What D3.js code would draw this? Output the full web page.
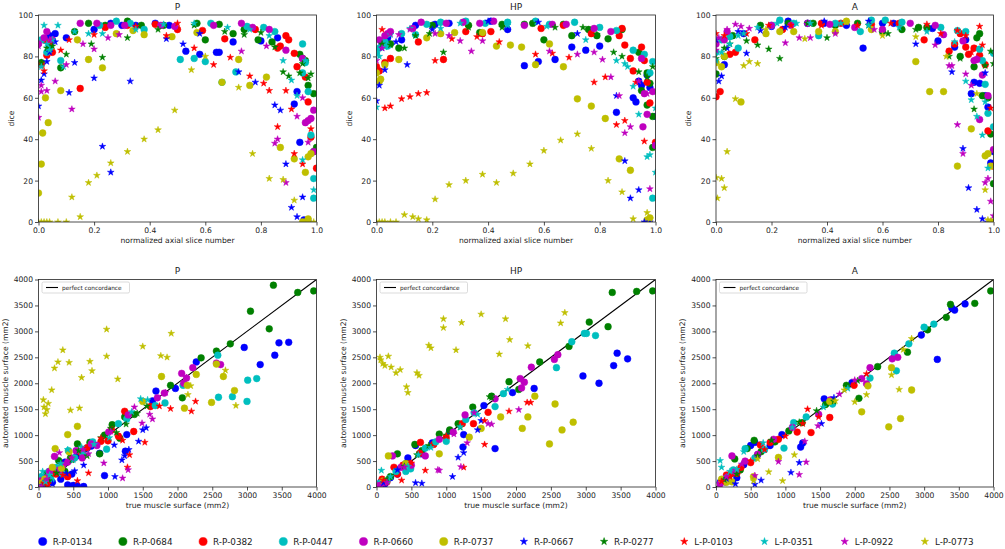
<!DOCTYPE html>
<html>
<head>
<meta charset="utf-8">
<script src="https://cdn.jsdelivr.net/npm/d3@7"></script>
<style>
  body { margin: 0; background: #fff; }
  text { font-family: "DejaVu Sans", sans-serif; fill: #222; }
</style>
</head>
<body>
<svg id="chart" width="1005" height="549"></svg>
<script>
// series (patients) in legend order
var seriesNames = ["R-P-0134", "R-P-0684", "R-P-0382", "R-P-0447", "R-P-0660", "R-P-0737",
                   "R-P-0667", "R-P-0277", "L-P-0103", "L-P-0351", "L-P-0922", "L-P-0773"];
var seriesColors = ["#0000ff", "#008000", "#ff0000", "#00bfbf", "#bf00bf", "#bfbf00",
                    "#0000ff", "#008000", "#ff0000", "#00bfbf", "#bf00bf", "#bfbf00"];
var seriesMarkers = ["o", "o", "o", "o", "o", "o", "*", "*", "*", "*", "*", "*"];

var diceTicksX = [0, 0.2, 0.4, 0.6, 0.8, 1.0];
var diceTicksY = [0, 20, 40, 60, 80, 100];
var surfTicks = [0, 500, 1000, 1500, 2000, 2500, 3000, 3500, 4000];

// rows: [series, normalized slice, dice]
var diceP = [
  [0,0.02,88],[0,0.04,90],[0,0.1,89],[0,0.2,93],[0,0.26,96],[0,0.35,95],[0,0.42,96],[0,0.47,95],[0,0.53,82.5],[0,0.58,81],[0,0.64,82],[0,0.65,82],[0,0.7,87],[0,0.8,87.5],[0,0.86,89],[0,0.93,63],[0,0.92,57],[0,0.94,38.5],[0,0.955,1],[0,0.97,0],[0,0.06,91],[0,0.3,95],
  [1,0.01,77],[1,0.08,74.5],[1,0.13,92],[1,0.18,96],[1,0.32,97],[1,0.37,95],[1,0.45,95],[1,0.57,96],[1,0.6,88],[1,0.65,95.5],[1,0.7,91],[1,0.74,93],[1,0.79,88],[1,0.84,87],[1,0.94,81],[1,0.95,79],[1,0.96,78],[1,0.97,66],[1,0.99,62],[1,1.0,36],[1,0.99,34],[1,0.04,85],[1,0.24,95],
  [2,0.02,88],[2,0.03,80.5],[2,0.05,82],[2,0.15,64.5],[2,0.24,94],[2,0.32,95],[2,0.42,95.5],[2,0.5,93],[2,0.59,92.5],[2,0.67,88.5],[2,0.78,93],[2,0.86,84],[2,0.87,85],[2,0.89,90],[2,0.9,88],[2,0.92,81.5],[2,0.93,75],[2,0.96,70],[2,0.97,58],[2,0.98,41],[2,1.0,26],[2,0.01,76],
  [3,0.01,88],[3,0.03,82],[3,0.08,78],[3,0.22,95],[3,0.28,97],[3,0.33,96],[3,0.38,93],[3,0.51,78.5],[3,0.56,79],[3,0.6,77.5],[3,0.62,96],[3,0.66,67.5],[3,0.71,72.5],[3,0.75,94.5],[3,0.81,94],[3,0.85,92],[3,0.95,86],[3,0.96,77],[3,0.97,63],[3,0.98,42],[3,0.99,21],[3,0.99,11.5],[3,0.95,72],[3,0.04,84],
  [4,0.0,86],[4,0.03,92],[4,0.05,88],[4,0.15,96],[4,0.21,96],[4,0.26,95],[4,0.31,95],[4,0.44,95],[4,0.49,94.5],[4,0.63,95],[4,0.73,96],[4,0.77,94],[4,0.83,93],[4,0.89,83],[4,0.95,79],[4,0.96,48],[4,0.97,49],[4,0.98,50],[4,0.99,54],[4,0.99,34],[4,0.02,89],
  [5,0.0,14],[5,0.01,28],[5,0.015,43],[5,0.025,60],[5,0.035,48],[5,0.08,63.5],[5,0.14,88],[5,0.18,78.5],[5,0.23,74.5],[5,0.28,91],[5,0.34,92.5],[5,0.38,90.5],[5,0.48,89.5],[5,0.57,91.5],[5,0.66,67.5],[5,0.72,78.5],[5,0.76,66],[5,0.82,70],[5,0.87,36],[5,0.92,30.5],[5,0.97,31.5],[5,0.98,33],[5,0.96,24],[5,0.97,1.5],[5,0.95,0],
  [6,0.0,56],[6,0.01,68.5],[6,0.02,71.5],[6,0.03,77.5],[6,0.06,87],[6,0.11,62.5],[6,0.13,77],[6,0.2,69.5],[6,0.23,36.5],[6,0.26,24],[6,0.33,68],[6,0.46,88.5],[6,0.52,86],[6,0.58,91],[6,0.72,72.5],[6,0.78,67.5],[6,0.85,56.5],[6,0.87,54],[6,0.89,28],[6,0.91,7],[6,0.93,2.5],[6,0.95,12],[6,0.04,82],
  [7,0.01,77],[7,0.05,85],[7,0.1,81],[7,0.19,86],[7,0.23,79.5],[7,0.32,89],[7,0.43,93],[7,0.56,95],[7,0.67,92],[7,0.74,90.5],[7,0.8,91.5],[7,0.85,84.5],[7,0.88,72.5],[7,0.9,70.5],[7,0.94,72],[7,0.95,76.5],[7,0.98,71.5],[7,0.97,69.5],[7,0.03,84],
  [8,0.02,73],[8,0.04,87],[8,0.08,83],[8,0.11,88],[8,0.2,90.5],[8,0.35,94.5],[8,0.46,90],[8,0.56,84],[8,0.63,76],[8,0.69,79.5],[8,0.76,70.5],[8,0.81,67],[8,0.83,63.5],[8,0.86,46],[8,0.89,63.5],[8,0.91,54.5],[8,0.92,33],[8,0.95,28],[8,0.98,45],[8,0.5,96],
  [9,0.01,75],[9,0.02,95],[9,0.03,86],[9,0.04,83],[9,0.07,95],[9,0.09,75],[9,0.13,92],[9,0.18,91],[9,0.23,91],[9,0.35,93],[9,0.45,95.5],[9,0.56,96],[9,0.68,94],[9,0.76,93],[9,0.83,90],[9,0.88,78],[9,0.91,68.5],[9,0.93,61],[9,0.96,78],[9,0.99,15.5],[9,0.95,30],[9,0.05,88],
  [10,0.0,50.5],[10,0.0,85],[10,0.01,63],[10,0.01,66],[10,0.03,63.5],[10,0.04,88],[10,0.06,68],[10,0.1,76],[10,0.12,54.5],[10,0.16,86],[10,0.2,83.5],[10,0.25,89],[10,0.29,90.5],[10,0.73,82.5],[10,0.82,85],[10,0.86,40],[10,0.85,38],[10,0.89,19],[10,0.93,51],[10,0.95,60],[10,0.97,38.5],
  [11,0.0,0],[11,0.01,0],[11,0.02,0],[11,0.03,0],[11,0.04,0],[11,0.07,0],[11,0.1,0],[11,0.12,12],[11,0.15,2.5],[11,0.18,19],[11,0.21,22.5],[11,0.26,28.5],[11,0.32,34],[11,0.38,40],[11,0.43,44.5],[11,0.49,54],[11,0.55,73.5],[11,0.6,80],[11,0.72,65],[11,0.77,33],[11,0.83,21],[11,0.88,20.5],[11,0.92,10.5],[11,0.97,1],[11,0.99,0]
];

var diceHP = [
  [0,0.04,89],[0,0.09,88],[0,0.14,95],[0,0.21,95.5],[0,0.26,96],[0,0.41,97],[0,0.47,93],[0,0.53,75.5],[0,0.58,77.5],[0,0.64,78.5],[0,0.7,84.5],[0,0.75,83],[0,0.8,85],[0,0.86,53],[0,0.92,60],[0,0.93,58],[0,0.94,68],[0,0.95,66],[0,0.97,71],[0,0.98,65],[0,1.0,51],[0,0.02,86],
  [1,0.02,87],[1,0.08,84],[1,0.2,95],[1,0.33,95],[1,0.37,91.5],[1,0.45,95.5],[1,0.53,95.5],[1,0.56,96],[1,0.6,88],[1,0.67,95.5],[1,0.7,90],[1,0.76,93],[1,0.79,90],[1,0.83,88.5],[1,0.88,93],[1,0.94,82],[1,0.95,63.5],[1,0.97,56.5],[1,0.97,72],[1,0.98,67],[1,0.99,51],[1,0.99,36],[1,0.05,86],
  [2,0.0,75],[2,0.03,77],[2,0.05,79],[2,0.15,87],[2,0.24,78.5],[2,0.32,92],[2,0.38,91],[2,0.41,92],[2,0.59,93.5],[2,0.67,95],[2,0.77,91],[2,0.87,90],[2,0.88,93.5],[2,0.89,85.5],[2,0.91,79],[2,0.92,73],[2,0.95,84.5],[2,0.96,78],[2,0.97,67.5],[2,0.98,57.5],[2,1.0,38.5],[2,0.01,73],
  [3,0.0,82],[3,0.01,84],[3,0.03,87],[3,0.09,91],[3,0.14,90.5],[3,0.18,95.5],[3,0.23,96.5],[3,0.32,97],[3,0.39,96],[3,0.47,96.5],[3,0.57,97],[3,0.62,95.5],[3,0.71,96.5],[3,0.8,94],[3,0.86,92.5],[3,0.92,83],[3,0.96,81],[3,0.99,77.5],[3,0.99,11.5],[3,0.98,72],[3,0.04,85],
  [4,0.01,88],[4,0.03,90],[4,0.05,92],[4,0.13,93.5],[4,0.16,96.5],[4,0.25,96],[4,0.31,96.5],[4,0.37,96],[4,0.42,97],[4,0.53,95],[4,0.63,95.5],[4,0.68,95.5],[4,0.78,93.5],[4,0.84,92],[4,0.95,79],[4,0.96,62],[4,0.97,52],[4,0.955,46],[4,0.99,63],[4,1.0,37],[4,0.04,91],
  [5,0.0,72],[5,0.01,68],[5,0.015,69],[5,0.03,76],[5,0.08,78.5],[5,0.18,89],[5,0.23,91],[5,0.28,91.5],[5,0.38,91.5],[5,0.43,85],[5,0.48,85.5],[5,0.52,84.5],[5,0.57,76],[5,0.62,86],[5,0.67,75],[5,0.72,59.5],[5,0.77,56],[5,0.82,50],[5,0.87,30.5],[5,0.91,25],[5,0.97,1],[5,0.98,2],
  [6,0.0,58.5],[6,0.01,66],[6,0.03,73.5],[6,0.07,87],[6,0.11,76],[6,0.2,93],[6,0.4,97],[6,0.58,96.5],[6,0.72,91],[6,0.86,61],[6,0.89,29.5],[6,0.91,11.5],[6,0.94,15.5],[6,0.96,0],[6,0.98,0],[6,0.02,84],
  [7,0.02,86],[7,0.05,85.5],[7,0.1,84],[7,0.14,90],[7,0.19,91],[7,0.24,82],[7,0.33,94],[7,0.45,94],[7,0.56,96],[7,0.64,94],[7,0.74,94],[7,0.79,90.5],[7,0.85,82],[7,0.88,80],[7,0.94,72.5],[7,0.99,75],[7,0.97,70],
  [8,0.02,93],[8,0.03,55],[8,0.05,56],[8,0.09,59.5],[8,0.12,60.5],[8,0.15,62],[8,0.18,62.5],[8,0.21,78],[8,0.27,88.5],[8,0.36,89.5],[8,0.44,87],[8,0.57,81],[8,0.63,81.5],[8,0.69,79.5],[8,0.78,67.5],[8,0.82,70],[8,0.86,47],[8,0.89,49],[8,0.93,67.5],[8,0.96,39],
  [9,0.0,55.5],[9,0.01,80],[9,0.03,84.5],[9,0.05,90.5],[9,0.12,93.5],[9,0.23,93.5],[9,0.3,96],[9,0.47,95],[9,0.61,94.5],[9,0.75,88],[9,0.86,78],[9,0.89,76.5],[9,0.9,75],[9,0.92,65.5],[9,0.94,52],[9,0.97,31.5],[9,0.98,32.5],[9,1.0,55],[9,1.0,24],
  [10,0.0,78],[10,0.02,84],[10,0.05,91],[10,0.08,90.5],[10,0.12,93],[10,0.21,91],[10,0.26,90],[10,0.3,87.5],[10,0.34,82.5],[10,0.38,87.5],[10,0.62,82.5],[10,0.72,81],[10,0.78,82],[10,0.81,78.5],[10,0.84,70],[10,0.87,61],[10,0.89,43],[10,0.91,46],[10,0.94,68],[10,0.97,62],[10,0.98,16],
  [11,0.0,0],[11,0.01,0],[11,0.02,0],[11,0.03,0],[11,0.05,0],[11,0.07,0],[11,0.1,3.5],[11,0.13,2.5],[11,0.15,1.5],[11,0.18,1],[11,0.21,11],[11,0.26,18],[11,0.32,20],[11,0.38,23],[11,0.43,19],[11,0.49,23.5],[11,0.55,28],[11,0.6,34.5],[11,0.66,39.5],[11,0.72,42.5],[11,0.77,35.5],[11,0.83,20],[11,0.88,14.5],[11,0.92,1.5],[11,0.97,4.5],[11,0.98,1.5]
];

var diceA = [
  [0,0.03,76],[0,0.1,91],[0,0.2,94.5],[0,0.26,97],[0,0.33,96],[0,0.39,96],[0,0.47,95],[0,0.53,84],[0,0.6,96],[0,0.64,96],[0,0.78,93.5],[0,0.8,87.5],[0,0.86,84.5],[0,0.9,88],[0,0.92,62],[0,0.93,67.5],[0,0.95,67],[0,0.97,61],[0,0.98,55.5],[0,0.99,28.5],[0,1.0,34],
  [1,0.0,71.5],[1,0.03,80],[1,0.06,90],[1,0.16,95],[1,0.26,96],[1,0.35,96],[1,0.43,95],[1,0.51,96],[1,0.6,92],[1,0.67,93],[1,0.73,94],[1,0.76,94],[1,0.88,80],[1,0.93,75],[1,0.94,89],[1,0.95,91],[1,0.96,61],[1,0.98,60],[1,0.99,42.5],[1,1.0,18.5],
  [2,0.0,60.5],[2,0.015,63],[2,0.05,81],[2,0.07,82],[2,0.14,88],[2,0.24,93],[2,0.38,96],[2,0.45,96],[2,0.56,95.5],[2,0.66,96],[2,0.75,88],[2,0.84,82.5],[2,0.86,86],[2,0.88,91],[2,0.9,84.5],[2,0.91,81],[2,0.93,84],[2,0.95,80.5],[2,0.97,76],[2,0.98,44],[2,1.0,27],
  [3,0.0,82],[3,0.02,88],[3,0.05,89.5],[3,0.08,84],[3,0.2,95],[3,0.23,97.5],[3,0.28,96],[3,0.37,90],[3,0.43,96],[3,0.52,92],[3,0.56,97.5],[3,0.61,97.5],[3,0.67,96.5],[3,0.81,94],[3,0.87,92.5],[3,0.9,92],[3,0.95,83.5],[3,0.96,78],[3,0.97,66.5],[3,0.98,52.5],[3,1.0,46],[3,1.0,81.5],
  [4,0.0,86],[4,0.03,88],[4,0.04,92],[4,0.2,95],[4,0.27,95],[4,0.33,96],[4,0.41,95.5],[4,0.5,94],[4,0.6,93],[4,0.7,96],[4,0.79,95],[4,0.82,90.5],[4,0.89,87.5],[4,0.93,78],[4,0.94,78.5],[4,0.95,49.5],[4,0.96,71],[4,0.98,61],[4,1.0,35],
  [5,0.0,77],[5,0.02,75],[5,0.03,80],[5,0.09,58],[5,0.18,91],[5,0.23,92],[5,0.28,92],[5,0.37,92],[5,0.43,92],[5,0.47,97],[5,0.56,93],[5,0.72,77.5],[5,0.77,63],[5,0.82,63],[5,0.87,27],[5,0.92,45],[5,0.97,32],[5,0.98,33],[5,0.99,27],[5,1.0,0],
  [6,0.0,88],[6,0.01,68],[6,0.02,70.5],[6,0.04,84],[6,0.08,92],[6,0.11,81.5],[6,0.16,92.5],[6,0.25,94],[6,0.39,97],[6,0.55,97],[6,0.72,86],[6,0.85,72.5],[6,0.89,35.5],[6,0.91,16.5],[6,0.94,6],[6,0.96,1.5],[6,0.97,72],[6,0.98,0],
  [7,0.0,79],[7,0.03,84],[7,0.05,86],[7,0.11,87.5],[7,0.15,85.5],[7,0.19,83.5],[7,0.23,79],[7,0.33,96],[7,0.4,89],[7,0.55,95],[7,0.62,91],[7,0.72,93],[7,0.84,80],[7,0.88,79],[7,0.93,54.5],[7,0.97,75.5],[7,0.99,82.5],[7,1.0,76.5],
  [8,0.0,91],[8,0.03,90],[8,0.11,91],[8,0.19,95],[8,0.27,95],[8,0.38,95],[8,0.51,95],[8,0.63,96],[8,0.76,95.5],[8,0.81,91],[8,0.87,92.5],[8,0.9,90],[8,0.95,94.5],[8,0.96,85.5],[8,0.99,55],[8,0.92,82],
  [9,0.0,78],[9,0.02,82],[9,0.05,86],[9,0.08,90],[9,0.1,91],[9,0.15,94],[9,0.22,96],[9,0.29,96],[9,0.34,96],[9,0.45,96],[9,0.55,95],[9,0.66,94],[9,0.76,92],[9,0.86,87],[9,0.9,68],[9,0.92,59],[9,0.94,51],[9,0.96,42],[9,0.97,58],[9,0.98,26],
  [10,0.0,83],[10,0.01,89],[10,0.04,93],[10,0.07,95.5],[10,0.09,94.5],[10,0.12,93.5],[10,0.25,86.5],[10,0.3,89],[10,0.34,89],[10,0.43,91],[10,0.57,93],[10,0.79,85.5],[10,0.84,75.5],[10,0.85,75.5],[10,0.87,47],[10,0.89,33],[10,0.9,71.5],[10,0.92,66],[10,0.94,79],[10,0.97,19],[10,0.98,21],[10,0.99,10],[10,1.0,3],
  [11,0.0,21.5],[11,0.005,11.5],[11,0.02,21],[11,0.03,16.5],[11,0.04,34],[11,0.07,59.5],[11,0.1,75.5],[11,0.12,77.5],[11,0.15,76.5],[11,0.18,93],[11,0.32,88.5],[11,0.47,96.5],[11,0.6,90],[11,0.72,89.5],[11,0.83,80],[11,0.94,62],[11,0.97,15.5],[11,0.98,1],[11,0.99,0.5]
];

// rows: [series, true surface, automated surface] (mm2)
var surfP = [
  [0,50,20],[0,120,60],[0,200,90],[0,320,150],[0,420,40],[0,500,30],[0,560,20],[0,650,10],[0,480,250],[0,550,600],[0,700,750],[0,880,650],[0,950,220],[0,1250,690],[0,1270,1010],[0,1640,1660],[0,1690,1850],[0,1970,1900],[0,2270,2410],[0,2960,2690],[0,3190,2360],[0,3400,2540],[0,3460,2780],[0,3600,2790],[0,380,480],[0,30,60],[0,90,140],[0,250,300],[0,600,640],[0,760,790],
  [1,80,100],[1,160,180],[1,290,510],[1,380,300],[1,560,830],[1,740,860],[1,880,640],[1,1060,1200],[1,1170,940],[1,1240,1350],[1,1380,1400],[1,1900,1960],[1,2070,1720],[1,2340,2490],[1,2560,2620],[1,2760,2760],[1,3050,3390],[1,3320,3050],[1,3380,3890],[1,3730,3750],[1,3960,3780],[1,230,320],[1,620,640],[1,40,50],[1,120,260],[1,350,400],[1,460,560],[1,950,1000],
  [2,100,150],[2,250,250],[2,330,380],[2,500,550],[2,700,760],[2,900,880],[2,1000,890],[2,1150,980],[2,1240,1460],[2,1370,1070],[2,1610,1550],[2,110,50],[2,420,200],[2,200,330],[2,60,90],[2,600,680],[2,1050,1100],
  [3,60,80],[3,150,300],[3,260,380],[3,430,700],[3,640,630],[3,780,870],[3,980,730],[3,1270,1310],[3,1680,1570],[3,1820,1620],[3,2080,1960],[3,2580,2540],[3,2590,1730],[3,2790,1740],[3,3000,1650],[3,3010,2060],[3,3140,2090],[3,180,140],[3,340,260],[3,40,200],[3,520,560],[3,1150,1220],
  [4,50,60],[4,230,590],[4,350,420],[4,540,700],[4,630,560],[4,760,830],[4,1010,1060],[4,1290,1390],[4,1710,1720],[4,1810,1810],[4,2060,2190],[4,2090,2000],[4,2130,2100],[4,2220,2300],[4,2560,2390],[4,2620,2360],[4,120,180],[4,300,330],[4,30,120],[4,160,300],[4,420,480],[4,840,800],
  [5,90,150],[5,200,380],[5,240,740],[5,420,1010],[5,560,1170],[5,440,680],[5,1500,1650],[5,1770,2130],[5,2100,1520],[5,2140,1960],[5,2270,2170],[5,2490,1630],[5,2560,2370],[5,2660,2130],[5,2820,1860],[5,50,80],[5,330,360],
  [6,60,30],[6,200,60],[6,400,260],[6,520,310],[6,1090,810],[6,1100,200],[6,1200,520],[6,1240,600],[6,1300,720],[6,1440,880],[6,1500,1100],[6,1550,1140],[6,100,110],[6,650,420],
  [7,80,60],[7,260,270],[7,480,520],[7,700,600],[7,1040,1130],[7,1120,1050],[7,1260,1210],[7,1420,1420],[7,1560,1560],[7,150,120],[7,580,700],[7,900,950],
  [8,140,60],[8,350,230],[8,560,120],[8,720,270],[8,1210,900],[8,1280,380],[8,1310,620],[8,1530,860],[8,1900,1510],[8,2200,1460],[8,2260,1650],[8,1740,1560],[8,80,80],[8,900,940],
  [9,60,300],[9,160,230],[9,320,450],[9,420,720],[9,620,770],[9,1020,950],[9,1340,1450],[9,1470,1700],[9,1570,1680],[9,100,100],[9,500,520],[9,800,820],
  [10,40,10],[10,300,660],[10,720,640],[10,940,460],[10,1040,1070],[10,1210,170],[10,1290,330],[10,1380,1540],[10,1490,1230],[10,1600,1400],[10,1640,1310],[10,1830,1820],[10,2130,2110],[10,120,150],[10,480,560],[10,640,720],
  [11,70,1680],[11,80,1540],[11,100,1410],[11,120,1490],[11,140,1610],[11,190,1870],[11,230,2290],[11,280,2410],[11,350,2640],[11,440,2400],[11,460,1480],[11,590,1520],[11,620,2110],[11,740,2420],[11,770,2240],[11,980,3040],[11,980,2520],[11,1140,2080],[11,1500,2710],[11,1760,2530],[11,1850,2500],[11,1910,2960],[11,2150,1780],[11,2690,2250],[11,2840,1570],[11,2190,1950]
];

var surfHP = [
  [0,1700,740],[0,1950,1820],[0,2260,1900],[0,2960,2140],[0,3190,2000],[0,3400,2340],[0,3450,2580],[0,3600,2470],[0,1540,1570],[0,1250,1010],[0,1240,770],[0,560,800],[0,450,560],[0,300,250],[0,120,60],[0,800,850],[0,60,90],[0,200,180],[0,650,640],[0,1050,1080],
  [1,300,640],[1,550,820],[1,900,1020],[1,1170,1220],[1,1380,1540],[1,1650,1750],[1,1900,2030],[1,2040,1880],[1,2340,2410],[1,2760,2710],[1,3050,3180],[1,3320,3090],[1,3380,3750],[1,3730,3770],[1,3960,3780],[1,200,200],[1,650,700],[1,80,120],[1,420,450],[1,1050,1100],
  [2,80,150],[2,300,250],[2,480,450],[2,620,650],[2,630,860],[2,820,820],[2,1000,950],[2,1230,1220],[2,1390,1220],[2,1600,1440],[2,250,380],[2,150,100],[2,380,420],
  [3,150,120],[3,420,300],[3,490,350],[3,700,750],[3,1000,880],[3,1280,1300],[3,1400,1430],[3,1700,1550],[3,1820,1800],[3,2580,2300],[3,2800,2800],[3,2980,2960],[3,3010,2960],[3,3140,2920],[3,60,80],[3,280,300],[3,850,870],
  [4,110,80],[4,230,600],[4,500,420],[4,700,600],[4,900,920],[4,1270,1390],[4,1700,1700],[4,2060,2090],[4,2080,1910],[4,2120,2020],[4,2220,2310],[4,2550,2460],[4,2600,2550],[4,40,30],[4,350,380],[4,1100,1060],
  [5,170,600],[5,420,450],[5,900,640],[5,1330,960],[5,1500,1130],[5,1780,1350],[5,2090,1130],[5,2170,1350],[5,2270,1750],[5,2480,830],[5,2560,1600],[5,2660,1100],[5,2820,1250],[5,100,120],
  [6,560,80],[6,650,70],[6,1090,200],[6,1170,570],[6,1250,660],[6,1500,1280],[6,1450,1100],[6,100,80],[6,300,330],
  [7,150,150],[7,400,400],[7,750,800],[7,1000,1000],[7,1200,1150],[7,1620,1740],[7,1650,1720],[7,580,620],
  [8,360,130],[8,700,320],[8,1250,380],[8,1550,820],[8,1550,1280],[8,1900,1460],[8,2160,1630],[8,2210,1630],[8,1000,980],[8,100,130],[8,500,460],
  [9,70,320],[9,200,200],[9,450,400],[9,780,760],[9,1200,1160],[9,1450,1400],[9,1880,1880],[9,600,620],
  [10,880,330],[10,900,320],[10,1210,390],[10,1300,850],[10,1400,1430],[10,1600,1220],[10,1650,1210],[10,2040,1490],[10,2100,2050],[10,1110,1020],[10,150,90],[10,400,380],
  [11,50,2500],[11,60,2450],[11,90,2380],[11,120,2340],[11,170,2520],[11,210,2310],[11,280,2200],[11,340,2260],[11,430,1930],[11,450,1820],[11,580,2200],[11,610,2150],[11,750,2730],[11,780,2680],[11,960,3240],[11,960,3070],[11,1140,2640],[11,1220,3170],[11,1500,3330],[11,1760,2560],[11,1850,3240],[11,1910,2840],[11,2170,2720],[11,2640,3160],[11,2700,3360]
];

var surfA = [
  [0,3440,3410],[0,3400,3450],[0,3590,3530],[0,2960,2930],[0,3190,2460],[0,1960,2010],[0,1560,1700],[0,1640,1640],[0,1250,850],[0,1220,770],[0,560,860],[0,500,800],[0,600,620],[0,300,180],[0,130,100],[0,950,1010],[0,60,90],[0,220,260],[0,400,430],[0,780,800],
  [1,180,190],[1,270,540],[1,450,740],[1,550,900],[1,850,870],[1,1240,1240],[1,1580,1590],[1,1880,1960],[1,2060,1710],[1,2330,2320],[1,2760,2600],[1,3050,3030],[1,3320,3270],[1,3380,3520],[1,3730,3540],[1,3960,3780],[1,80,110],[1,350,330],[1,650,680],[1,1050,1080],
  [2,100,120],[2,210,250],[2,360,380],[2,640,810],[2,780,860],[2,1170,1060],[2,1370,1050],[2,1640,1340],[2,1990,1960],[2,500,470],[2,150,230],[2,300,260],[2,900,920],
  [3,80,120],[3,250,330],[3,420,740],[3,560,560],[3,980,750],[3,1120,1240],[3,1300,1350],[3,1680,1600],[3,2220,2100],[3,2570,2580],[3,2600,2240],[3,2780,2760],[3,3000,3080],[3,3140,3140],[3,160,180],[3,700,720],
  [4,130,100],[4,230,600],[4,420,500],[4,830,920],[4,1480,1400],[4,1650,1680],[4,2100,2090],[4,2170,1990],[4,2220,2300],[4,2540,2470],[4,2620,2500],[4,60,60],[4,280,300],[4,600,630],[4,1100,1150],
  [5,80,150],[5,230,100],[5,540,200],[5,900,570],[5,1640,1650],[5,2100,1450],[5,2190,1950],[5,2530,2300],[5,2490,1160],[5,2660,1320],[5,2820,1870],[5,150,90],
  [6,280,60],[6,560,50],[6,650,130],[6,1080,280],[6,1200,470],[6,1520,1220],[6,1700,1720],[6,150,160],
  [7,300,250],[7,600,600],[7,800,900],[7,1200,1250],[7,1450,1470],[7,1700,1650],[7,2040,2050],[7,120,140],
  [8,200,200],[8,500,500],[8,1000,980],[8,1250,1220],[8,1480,1350],[8,2170,2180],[8,1320,1500],[8,80,110],[8,700,720],
  [9,60,510],[9,80,380],[9,200,300],[9,400,680],[9,680,850],[9,1100,1150],[9,1550,1540],[9,1900,1900],[9,300,340],
  [10,370,440],[10,560,220],[10,900,490],[10,1200,240],[10,1280,880],[10,1300,480],[10,1470,1180],[10,1780,1790],[10,2000,2060],[10,150,200],
  [11,540,120],[11,600,540],[11,760,290],[11,960,120],[11,1130,620],[11,1720,1660],[11,1850,1870],[11,2000,1640],[11,2170,1780],[11,2530,2160],[11,2640,1880],[11,2700,2650],[11,2820,2860]
];

var svg = d3.select("#chart");

var topRow = { top: 15, bottom: 222 };
var bottomRow = { top: 279.5, bottom: 487 };
var columns = [[38.5, 316.5], [376.5, 655.5], [716, 993.5]];

var panels = [
  { title: "P",  data: diceP,  col: 0, row: topRow, kind: "dice" },
  { title: "HP", data: diceHP, col: 1, row: topRow, kind: "dice" },
  { title: "A",  data: diceA,  col: 2, row: topRow, kind: "dice" },
  { title: "P",  data: surfP,  col: 0, row: bottomRow, kind: "surf" },
  { title: "HP", data: surfHP, col: 1, row: bottomRow, kind: "surf" },
  { title: "A",  data: surfA,  col: 2, row: bottomRow, kind: "surf" }
];

function drawMarker(g, marker, color, x, y, big) {
  var path;
  if (marker === "o") {
    path = d3.symbol().type(d3.symbolCircle).size(big ? 52 : 36)();
  } else {
    path = d3.symbol().type(d3.symbolStar).size(big ? 17 : 14)();
  }
  g.append("path")
    .attr("d", path)
    .attr("transform", "translate(" + x + "," + y + ")")
    .attr("fill", color)
    .attr("stroke", color)
    .attr("stroke-width", 0.5);
}

panels.forEach(function(p, i) {
  var left = columns[p.col][0], right = columns[p.col][1];
  var top = p.row.top, bottom = p.row.bottom;
  var isDice = p.kind === "dice";

  var x = d3.scaleLinear().domain(isDice ? [0, 1] : [0, 4000]).range([left, right]);
  var y = d3.scaleLinear().domain(isDice ? [0, 100] : [0, 4000]).range([bottom, top]);

  var g = svg.append("g");

  g.append("clipPath").attr("id", "clip" + i)
    .append("rect")
    .attr("x", left).attr("y", top)
    .attr("width", right - left).attr("height", bottom - top);

  var plot = g.append("g").attr("clip-path", "url(#clip" + i + ")");

  // perfect concordance line under the points
  if (!isDice) {
    plot.append("line")
      .attr("x1", x(0)).attr("y1", y(0))
      .attr("x2", x(4000)).attr("y2", y(4000))
      .attr("stroke", "#000").attr("stroke-width", 1.1);
  }

  // points, series by series
  for (var s = 0; s < seriesNames.length; s++) {
    p.data.filter(function(d) { return d[0] === s; }).forEach(function(d) {
      drawMarker(plot, seriesMarkers[s], seriesColors[s], x(d[1]), y(d[2]), false);
    });
  }

  // axes
  var xAxis = d3.axisBottom(x)
    .tickValues(isDice ? diceTicksX : surfTicks)
    .tickFormat(isDice ? d3.format(".1f") : d3.format("d"))
    .tickSize(3.5).tickPadding(2);
  var yAxis = d3.axisLeft(y)
    .tickValues(isDice ? diceTicksY : surfTicks)
    .tickFormat(d3.format("d"))
    .tickSize(3.5).tickPadding(2);

  var gx = g.append("g").attr("transform", "translate(0," + bottom + ")").call(xAxis);
  var gy = g.append("g").attr("transform", "translate(" + left + ",0)").call(yAxis);
  [gx, gy].forEach(function(ax) {
    ax.select(".domain").remove();
    ax.selectAll("line").attr("stroke", "#222").attr("stroke-width", 0.8);
    ax.selectAll("text").style("font-size", "7.6px").attr("fill", "#222");
  });

  // frame
  g.append("rect")
    .attr("x", left).attr("y", top)
    .attr("width", right - left).attr("height", bottom - top)
    .attr("fill", "none").attr("stroke", "#222").attr("stroke-width", 0.8);

  // title
  g.append("text")
    .attr("x", (left + right) / 2).attr("y", top - 5.5)
    .attr("text-anchor", "middle")
    .style("font-size", "9px")
    .text(p.title);

  // axis labels
  g.append("text")
    .attr("x", (left + right) / 2).attr("y", bottom + 21)
    .attr("text-anchor", "middle")
    .style("font-size", "7.6px")
    .text(isDice ? "normalized axial slice number" : "true muscle surface (mm2)");

  var ylx = isDice ? left - 25 : left - 31;
  g.append("text")
    .attr("transform", "translate(" + ylx + "," + ((top + bottom) / 2) + ") rotate(-90)")
    .attr("text-anchor", "middle")
    .style("font-size", "7.6px")
    .text(isDice ? "dice" : "automated muscle surface (mm2)");

  // small legend for the concordance line
  if (!isDice) {
    var lg = g.append("g").attr("transform", "translate(" + (left + 3.5) + "," + (top + 2.5) + ")");
    lg.append("rect")
      .attr("width", 87.5).attr("height", 11).attr("rx", 1.5)
      .attr("fill", "#fff").attr("fill-opacity", 0.8)
      .attr("stroke", "#ccc").attr("stroke-width", 0.7);
    lg.append("line")
      .attr("x1", 4).attr("x2", 16).attr("y1", 5.5).attr("y2", 5.5)
      .attr("stroke", "#000").attr("stroke-width", 1.1);
    lg.append("text")
      .attr("x", 20).attr("y", 7.6)
      .style("font-size", "5.8px")
      .text("perfect concordance");
  }
});

// patient legend along the bottom
var legendY = 541.5;
seriesNames.forEach(function(name, s) {
  var lx = 42.7 + s * 80.2;
  drawMarker(svg, seriesMarkers[s], seriesColors[s], lx, legendY, true);
  svg.append("text")
    .attr("x", lx + 10).attr("y", legendY + 3.2)
    .style("font-size", "8.8px")
    .text(name);
});
</script>
</body>
</html>
